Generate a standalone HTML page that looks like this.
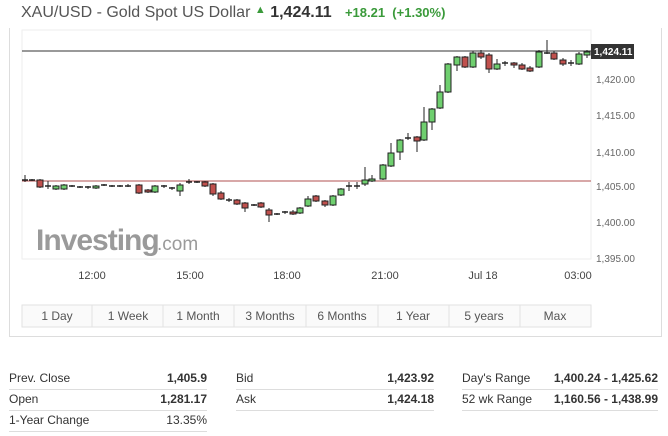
<!DOCTYPE html>
<html><head><meta charset="utf-8"><style>
body{margin:0;width:668px;height:436px;background:#fff;font-family:"Liberation Sans",sans-serif;position:relative;overflow:hidden}
.a{position:absolute;white-space:nowrap}
.t{font-size:12px;color:#333}
.v{font-size:12px;color:#333;font-weight:bold;text-align:right}
.ln{position:absolute;height:1px;background:#ddd}
</style></head><body>
<div class="a" style="left:21px;top:4px;font-size:16px;color:#555">XAU/USD - Gold Spot US Dollar <span style="color:#3a9a3a;font-size:11px;vertical-align:4px">&#9650;</span> <b style="color:#333">1,424.11</b> &nbsp; <b style="color:#3a9a3a;font-size:13px">+18.21 &nbsp;(+1.30%)</b></div>
<div style="position:absolute;left:9px;top:28px;width:651px;height:308px;border:1px solid #ddd;border-top:none"></div>
<svg class="a" style="left:0;top:0" width="668" height="340" id="s">
<rect x="22" y="30" width="569" height="229" fill="#fff" stroke="#eee"/>
<text x="36" y="250" font-size="30" font-weight="bold" fill="#9a9a9a" font-family="Liberation Sans" letter-spacing="-1">Investing</text>
<text x="157" y="250" font-size="19" fill="#9a9a9a" font-family="Liberation Sans">.com</text>
<line x1="22" y1="51" x2="591" y2="51" stroke="#333"/>
<line x1="22" y1="181" x2="591" y2="181" stroke="#b05050"/>
<g font-size="10" fill="#666" font-family="Liberation Sans">
<text x="596" y="83">1,420.00</text><text x="596" y="119">1,415.00</text><text x="596" y="156">1,410.00</text><text x="596" y="190">1,405.00</text><text x="596" y="226">1,400.00</text><text x="596" y="262">1,395.00</text>
</g>
<rect x="591" y="44" width="43" height="15" fill="#333"/>
<text x="594" y="55" font-size="10" fill="#fff" font-weight="bold" font-family="Liberation Sans">1,424.11</text>
<g font-size="11" fill="#444" font-family="Liberation Sans" text-anchor="middle">
<text x="92" y="279">12:00</text><text x="190" y="279">15:00</text><text x="287" y="279">18:00</text><text x="385" y="279">21:00</text><text x="483" y="279">Jul 18</text><text x="578" y="279">03:00</text>
</g>
<rect x="22" y="305" width="569" height="22" fill="#fafafa" stroke="#e2e2e2"/>
<g stroke="#e2e2e2"><line x1="92" y1="305" x2="92" y2="327"/><line x1="163" y1="305" x2="163" y2="327"/><line x1="234" y1="305" x2="234" y2="327"/><line x1="306" y1="305" x2="306" y2="327"/><line x1="378" y1="305" x2="378" y2="327"/><line x1="449" y1="305" x2="449" y2="327"/><line x1="520" y1="305" x2="520" y2="327"/></g>
<g font-size="12" fill="#555" font-family="Liberation Sans" text-anchor="middle">
<text x="57" y="320">1 Day</text><text x="128" y="320">1 Week</text><text x="198" y="320">1 Month</text><text x="270" y="320">3 Months</text><text x="342" y="320">6 Months</text><text x="413" y="320">1 Year</text><text x="484" y="320">5 years</text><text x="555" y="320">Max</text>
</g>
<g id="c"></g>
</svg>
<div class="a t" style="left:9px;top:371px">Prev. Close</div><div class="a v" style="left:120px;width:87px;top:371px">1,405.9</div>
<div class="a t" style="left:9px;top:392px">Open</div><div class="a v" style="left:120px;width:87px;top:392px">1,281.17</div>
<div class="a t" style="left:9px;top:413px">1-Year Change</div><div class="a v" style="left:120px;width:87px;top:413px;font-weight:normal">13.35%</div>
<div class="ln" style="left:9px;width:198px;top:389px"></div><div class="ln" style="left:9px;width:198px;top:410px"></div><div class="ln" style="left:9px;width:198px;top:431px"></div>
<div class="a t" style="left:236px;top:371px">Bid</div><div class="a v" style="left:340px;width:94px;top:371px">1,423.92</div>
<div class="a t" style="left:236px;top:392px">Ask</div><div class="a v" style="left:340px;width:94px;top:392px">1,424.18</div>
<div class="ln" style="left:236px;width:198px;top:389px"></div><div class="ln" style="left:236px;width:198px;top:410px"></div>
<div class="a t" style="left:462px;top:371px">Day's Range</div><div class="a v" style="left:540px;width:118px;top:371px">1,400.24 - 1,425.62</div>
<div class="a t" style="left:462px;top:392px">52 wk Range</div><div class="a v" style="left:540px;width:118px;top:392px">1,160.56 - 1,438.99</div>
<div class="ln" style="left:462px;width:196px;top:389px"></div><div class="ln" style="left:462px;width:196px;top:410px"></div>
<script>
var d=[[25,180,181,175,182],[32,180,180,179,181],[40,180,187,179,188],[48,186,186,181,189],[56,189,186,185,190],[64,189,185,184,190],[72,186,186,185,187],[80,187,187,186,188],[88,188,187,186,189],[96,188,186,185,189],[104,185,185,184,186],[112,186,186,185,187],[120,186,186,185,187],[128,186,186,184,187],[139,185,193,184,194],[148,190,192,189,193],[155,192,186,185,193],[164,186,186,185,188],[172,188,189,187,190],[180,191,185,183,196],[189,183,182,179,184],[197,182,182,181,183],[205,182,186,181,187],[213,184,194,183,196],[221,193,199,191,200],[229,200,200,198,202],[237,200,204,199,205],[245,203,208,202,212],[254,205,205,204,206],[261,203,207,202,208],[269,210,215,208,222],[277,214,214,213,215],[285,212,213,211,214],[293,212,214,210,215],[300,213,208,207,214],[308,206,199,196,207],[316,196,201,195,202],[325,201,205,200,207],[333,205,196,195,206],[341,195,189,188,196],[349,186,186,182,191],[357,186,186,182,189],[365,184,180,167,186],[372,181,179,175,182],[383,179,165,164,180],[391,166,153,143,167],[400,152,140,139,160],[408,138,138,133,140],[417,137,141,136,152],[424,140,122,107,141],[432,122,109,108,130],[440,108,92,85,109],[448,92,64,63,93],[457,65,57,56,71],[465,57,67,56,68],[473,67,53,51,68],[481,53,57,50,59],[489,55,69,53,73],[497,69,64,59,70],[505,63,63,61,66],[514,63,65,62,68],[522,65,69,63,70],[530,68,71,66,72],[539,67,52,50,68],[547,53,53,40,54],[554,53,59,51,60],[563,60,64,58,66],[571,63,63,60,66],[579,64,54,52,65],[587,55,52,50,58]];
var g=document.getElementById('c'),h='';
d.forEach(function(a){var x=a[0],o=a[1],c=a[2],up=c<=o;var col=up?'#6fcf6f':'#c0504d';
h+='<line x1="'+x+'" x2="'+x+'" y1="'+a[3]+'" y2="'+a[4]+'" stroke="#222"/>';
var t=Math.min(o,c),bh=Math.abs(o-c);
if(bh<2)h+='<line x1="'+(x-3)+'" x2="'+(x+3)+'" y1="'+t+'" y2="'+t+'" stroke="#222" stroke-width="1.5"/>';
else h+='<rect x="'+(x-3)+'" y="'+t+'" width="6" height="'+bh+'" fill="'+col+'" stroke="#222"/>';});
g.innerHTML=h;
</script>
</body></html>
